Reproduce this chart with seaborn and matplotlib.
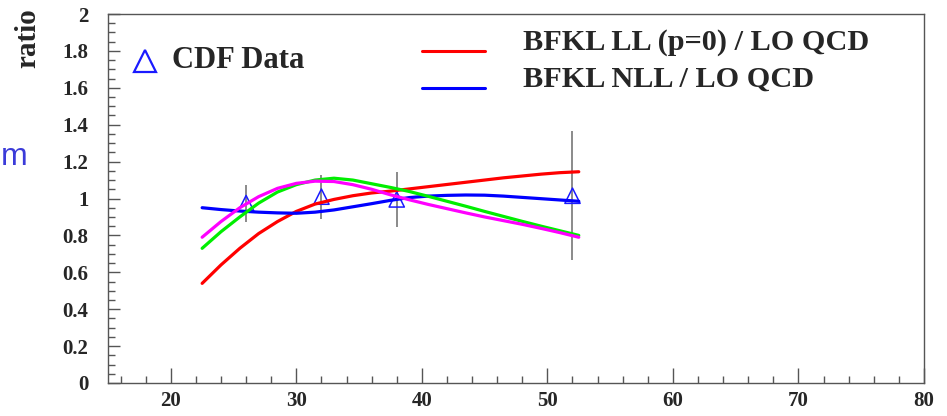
import numpy as np
import pandas as pd
import matplotlib
matplotlib.use("Agg")
import matplotlib.pyplot as plt
from matplotlib.ticker import MultipleLocator
import seaborn as sns

# ---- data ----
cdf_x = [26, 32, 38, 52]
cdf_y = [0.975, 1.01, 0.995, 1.015]
cdf_err = [0.10, 0.12, 0.15, 0.35]

curve_x = [22.5, 24.0, 25.5, 27.0, 28.5, 30.0, 31.5, 33.0, 34.5, 36.0, 37.5,
           39.0, 40.5, 42.0, 43.5, 45.0, 46.5, 48.0, 49.5, 51.0, 52.5]
red_y = [0.54, 0.64, 0.73, 0.81, 0.875, 0.93, 0.97, 0.995, 1.015, 1.03, 1.04,
         1.052, 1.064, 1.076, 1.088, 1.10, 1.112, 1.122, 1.132, 1.14, 1.145]
blue_y = [0.95, 0.94, 0.932, 0.926, 0.922, 0.92, 0.926, 0.938, 0.955, 0.972, 0.99,
          1.005, 1.013, 1.017, 1.019, 1.018, 1.013, 1.006, 0.999, 0.992, 0.985]
green_y = [0.73, 0.82, 0.90, 0.975, 1.035, 1.075, 1.10, 1.11, 1.10, 1.08, 1.06,
           1.038, 1.012, 0.985, 0.958, 0.93, 0.903, 0.876, 0.85, 0.825, 0.80]
magenta_y = [0.79, 0.875, 0.95, 1.01, 1.055, 1.082, 1.094, 1.092, 1.075, 1.05, 1.02,
             0.993, 0.968, 0.945, 0.922, 0.90, 0.88, 0.86, 0.838, 0.815, 0.79]

series_names = ["red", "blue", "green", "magenta"]
series_colors = ["#ff0000", "#0000ff", "#00ee00", "#ff00ff"]
legend_labels = ["BFKL LL (p=0) / LO QCD", "BFKL NLL / LO QCD"]
data_label = "CDF Data"
y_label = "ratio"
x_ticks = [20, 30, 40, 50, 60, 70, 80]
y_ticks = [0, 0.2, 0.4, 0.6, 0.8, 1, 1.2, 1.4, 1.6, 1.8, 2]
y_tick_labels = ["0", "0.2", "0.4", "0.6", "0.8", "1", "1.2", "1.4", "1.6", "1.8", "2"]

# ---- figure ----
sns.set_theme(style="white")
plt.rcParams["font.family"] = ["Liberation Serif", "DejaVu Serif"]

W, H = 947, 416
fig = plt.figure(figsize=(W / 100, H / 100), dpi=100)
L, R, B, T = 108, 924, 383, 14
ax = fig.add_axes([L / W, 1 - B / H, (R - L) / W, (B - T) / H])

# data points with error bars
ax.errorbar(cdf_x, cdf_y, yerr=cdf_err, fmt="none", ecolor="#777777",
            elinewidth=1.2, capsize=0, zorder=2)
sns.scatterplot(x=cdf_x, y=cdf_y, marker="^", s=11 ** 2, facecolors="none",
                edgecolor="#1a1aff", linewidth=1.1, ax=ax, zorder=3)

# curves
frames = []
for name, ys in zip(series_names, [red_y, blue_y, green_y, magenta_y]):
    frames.append(pd.DataFrame({"x": curve_x, "y": ys, "series": name}))
df = pd.concat(frames, ignore_index=True)
sns.lineplot(data=df, x="x", y="y", hue="series", hue_order=series_names,
             palette=dict(zip(series_names, series_colors)), linewidth=2.3,
             legend=False, ax=ax, zorder=4, sort=False)

ax.set_xlim(15, 80)
ax.set_ylim(0, 2)
ax.set_xlabel("")
ax.set_ylabel("")

ax.set_xticks(x_ticks)
ax.xaxis.set_minor_locator(MultipleLocator(2))
ax.set_yticks(y_ticks)
ax.set_yticklabels(y_tick_labels)
ax.yaxis.set_minor_locator(MultipleLocator(0.05))

spine_c = "#555555"
for s in ax.spines.values():
    s.set_color(spine_c)
    s.set_linewidth(1.0)
    s.set_visible(True)

ax.tick_params(axis="x", which="major", direction="in", length=10.5, width=1.0,
               color=spine_c, pad=6, labelsize=15, bottom=True, top=False)
ax.tick_params(axis="x", which="minor", direction="in", length=5, width=1.0,
               color=spine_c, bottom=True, top=False)
ax.tick_params(axis="y", which="major", direction="in", length=8.6, width=1.0,
               color=spine_c, pad=14, labelsize=15, left=True, right=False)
ax.tick_params(axis="y", which="minor", direction="in", length=5.2, width=1.0,
               color=spine_c, left=True, right=False)
for lab in ax.get_xticklabels() + ax.get_yticklabels():
    lab.set_fontweight("bold")

# y label (top aligned)
ax.text((28 - L) / (R - L), (B - 8) / (B - T), y_label, rotation=90,
        ha="center", va="top", fontsize=21, fontweight="bold",
        transform=ax.transAxes)

def ax_xy(px, py):
    return (px - L) / (R - L), (B - py) / (B - T)

# legend: CDF data
mx, my = ax_xy(145, 61)
ax.plot([mx], [my], marker="^", markersize=16.5, markerfacecolor="none",
        markeredgecolor="#1a1aff", markeredgewidth=1.6, linestyle="none",
        transform=ax.transAxes, clip_on=False)
tx, ty = ax_xy(172, 60)
ax.text(tx, ty, data_label, ha="left", va="center", fontsize=22,
        fontweight="bold", transform=ax.transAxes)

# legend: curves
for (lab, col, line_py, text_py) in [(legend_labels[0], series_colors[0], 51, 43),
                                      (legend_labels[1], series_colors[1], 88, 79)]:
    x0, yl = ax_xy(422, line_py)
    x1, _ = ax_xy(485, line_py)
    ax.plot([x0, x1], [yl, yl], color=col, linewidth=2.2,
            transform=ax.transAxes, clip_on=False)
    tx, ty = ax_xy(523, text_py)
    ax.text(tx, ty, lab, ha="left", va="center", fontsize=21.8,
            fontweight="bold", transform=ax.transAxes)

# blue text at the left edge
fig.text(0.5 / W, 1 - 165 / H, "m", ha="left", va="baseline", fontsize=23,
         color="#3b3bd9", family=["Liberation Sans", "DejaVu Sans"])

fig.savefig("out.png", dpi=100)
